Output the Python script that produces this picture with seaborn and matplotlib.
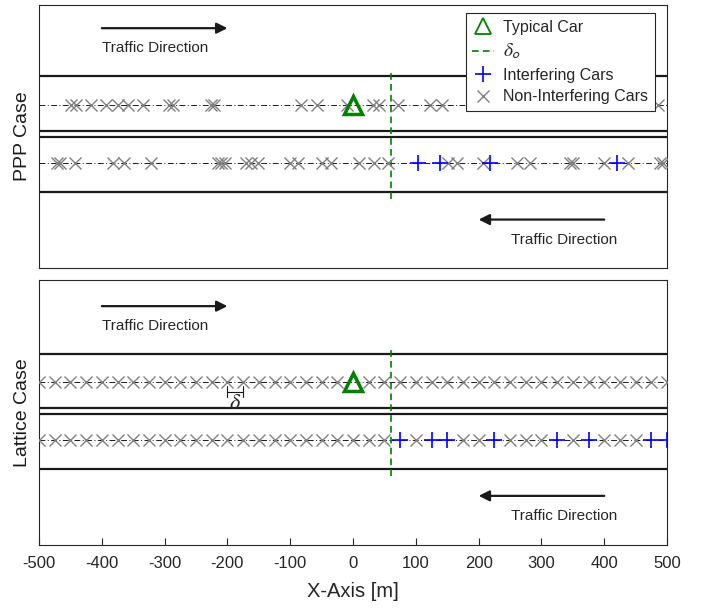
import numpy as np
import pandas as pd
import matplotlib
matplotlib.use("Agg")
import matplotlib.pyplot as plt
import seaborn as sns
from matplotlib.lines import Line2D

# ---------------- data ----------------
x_ticks = [-500, -400, -300, -200, -100, 0, 100, 200, 300, 400, 500]
typical_car_x = 0
delta_o = 60
delta_ends = [-200, -175]

ppp_upper_noninterf = [-449, -441, -418, -394, -375, -359, -335, -293, -287, -226,
                       -221, -83, -57, -9, 31, 42, 71, 122, 141, 485]
ppp_lower_noninterf = [-472, -467, -443, -382, -364, -321, -215, -210, -204, -170,
                       -162, -151, -101, -88, -50, -35, 10, 34, 56, 152, 165, 207,
                       261, 282, 346, 351, 399, 438, 489, 494]
ppp_lower_interf = [104, 139, 218, 420]

lat_upper_noninterf = [-500, -475, -450, -425, -400, -375, -350, -325, -300, -275,
                       -250, -225, -200, -175, -150, -125, -100, -75, -50, -25,
                       25, 50, 75, 100, 125, 150, 175, 200, 225, 250, 275, 300,
                       325, 350, 375, 400, 425, 450, 475, 500]
lat_lower_noninterf = [-500, -475, -450, -425, -400, -375, -350, -325, -300, -275,
                       -250, -225, -200, -175, -150, -125, -100, -75, -50, -25,
                       0, 25, 50, 100, 175, 200, 250, 275, 300, 350, 400, 425, 450]
lat_lower_interf = [75, 125, 150, 225, 325, 375, 475, 500]

legend_labels = ["Typical Car", r"$\delta_{\mathsf{o}}$", "Interfering Cars",
                 "Non-Interfering Cars"]

# ---------------- style ----------------
sns.set_theme(style="white")
plt.rcParams["font.family"] = ["Liberation Sans", "DejaVu Sans"]
plt.rcParams["mathtext.fontset"] = "stix"

GREEN = (0, 0.5, 0)
GRAY = (0.5, 0.5, 0.5)
BLUE = (0, 0, 1)
AXC = "#262626"

fig = plt.figure(figsize=(7.02, 6.08), dpi=100)
ax1 = fig.add_axes([0.0556, 0.5592, 0.8946, 0.4326])
ax2 = fig.add_axes([0.0556, 0.1036, 0.8946, 0.4359])

UP, LO = 1.0, -1.0


def draw_panel(ax, upper_x, lower_x, interf_x, ylim):
    ax.set_xlim(-500, 500)
    ax.set_ylim(*ylim)
    for yy in (2.0, -2.0, 0.09, -0.09):
        ax.axhline(yy, color="k", lw=1.6, zorder=1)
    for yy in (UP, LO):
        ax.axhline(yy, color="k", lw=0.7, ls=(0, (6, 2.5, 1, 2.5)), zorder=1)
    ax.plot([delta_o, delta_o], [-2.25, 2.25], ls=(0, (4, 2.5)), color=GREEN,
            lw=1.2, zorder=2)
    df_up = pd.DataFrame({"x": upper_x, "y": UP})
    df_lo = pd.DataFrame({"x": lower_x, "y": LO})
    df_in = pd.DataFrame({"x": interf_x, "y": LO})
    sns.scatterplot(data=df_up, x="x", y="y", marker="x", color=GRAY, s=75,
                    linewidth=1.0, ax=ax, zorder=3, legend=False)
    sns.scatterplot(data=df_lo, x="x", y="y", marker="x", color=GRAY, s=75,
                    linewidth=1.0, ax=ax, zorder=3, legend=False)
    sns.scatterplot(data=df_in, x="x", y="y", marker="+", color=BLUE, s=120,
                    linewidth=1.2, ax=ax, zorder=4, legend=False)
    ax.plot([typical_car_x], [UP], marker="^", ms=12.5, mfc="none", mec=GREEN,
            mew=2.5, ls="none", zorder=5)
    # traffic direction arrows
    ax.annotate("", xy=(-200, 3.65), xytext=(-400, 3.65),
                arrowprops=dict(arrowstyle="-|>", color="k", lw=1.6,
                                mutation_scale=16, shrinkA=0, shrinkB=0))
    ax.text(-400, 2.95, "Traffic Direction", fontsize=11, ha="left", va="center")
    ax.annotate("", xy=(200, -2.95), xytext=(400, -2.95),
                arrowprops=dict(arrowstyle="-|>", color="k", lw=1.6,
                                mutation_scale=16, shrinkA=0, shrinkB=0))
    ax.text(252, -3.65, "Traffic Direction", fontsize=11, ha="left", va="center")
    ax.set_xlabel("")
    ax.set_yticks([])
    for sp in ax.spines.values():
        sp.set_color(AXC)
        sp.set_linewidth(0.8)


draw_panel(ax1, ppp_upper_noninterf, ppp_lower_noninterf, ppp_lower_interf,
           (-4.62, 4.45))
draw_panel(ax2, lat_upper_noninterf, lat_lower_noninterf, lat_lower_interf,
           (-4.66, 4.56))

# delta spacing annotation
ax2.plot(delta_ends, [0.68, 0.68], color="k", lw=0.8, zorder=2)
for xe in delta_ends:
    ax2.plot([xe, xe], [0.5, 0.86], color="k", lw=0.8, zorder=2)
ax2.text(np.mean(delta_ends), 0.25, r"$\delta$", fontsize=16, ha="center",
         va="center")

ax1.set_xticks([])
ax1.set_ylabel("PPP Case", fontsize=14, labelpad=6, color="k")
ax2.set_ylabel("Lattice Case", fontsize=14, labelpad=6, color="k")

ax2.set_xticks(x_ticks)
ax2.set_xticklabels([str(t) for t in x_ticks])
ax2.tick_params(axis="x", direction="in", length=5, width=0.8, color=AXC,
                labelsize=12, labelcolor=AXC, pad=8, bottom=True)
ax2.set_xlabel("X-Axis [m]", fontsize=14.5, color=AXC, labelpad=8)

handles = [
    Line2D([], [], marker="^", ms=11, mfc="none", mec=GREEN, mew=1.3, ls="none"),
    Line2D([], [], color=GREEN, ls=(0, (4, 2.5)), lw=1.2),
    Line2D([], [], marker="+", ms=12, color=BLUE, mew=1.2, ls="none"),
    Line2D([], [], marker="x", ms=9, color=GRAY, mew=1.0, ls="none"),
]
leg = ax1.legend(handles, legend_labels, loc="upper right",
                 bbox_to_anchor=(0.981, 0.970), borderaxespad=0, fontsize=11.5,
                 frameon=True, fancybox=False, edgecolor=AXC, framealpha=1,
                 handlelength=1.35, handletextpad=0.6, labelspacing=0.42,
                 borderpad=0.42)
leg.get_texts()[1].set_fontsize(14)
leg.get_frame().set_linewidth(0.8)
leg.set_zorder(10)

fig.savefig("out.png", dpi=100)
